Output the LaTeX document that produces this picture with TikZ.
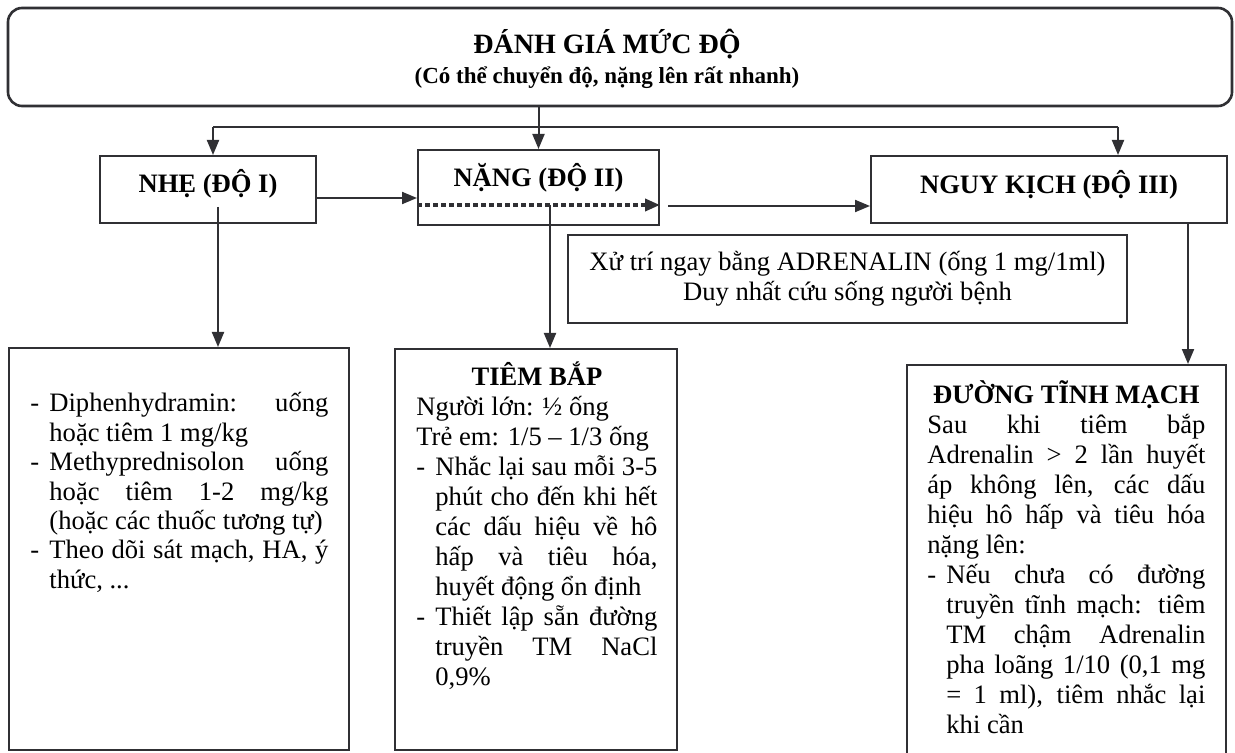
\documentclass[tikz,border=0pt]{standalone}
\usepackage{fontspec}
\setmainfont{Liberation Serif}
\usetikzlibrary{arrows.meta}
\definecolor{ink}{RGB}{48,48,52}
\newcommand{\dashitem}{\par\hangindent=9.5pt\hangafter=1\noindent\makebox[9.5pt][l]{-}}

\begin{document}
\begin{tikzpicture}[x=0.5pt,y=0.5pt,yscale=-1,xscale=1,
  box/.style={draw=ink,line width=1pt,inner sep=0pt},
  headtxt/.style={font=\fontsize{13.3}{15}\selectfont\bfseries,text=black,inner sep=0pt},
  bodytxt/.style={font=\fontsize{13.3}{15}\selectfont,text=black,inner sep=0pt,align=justify},
  arrow/.style={draw=ink,line width=1pt,-{Triangle[length=7.5pt,width=6pt]}},
  dotarrow/.style={draw=ink,line width=1.8pt,dash pattern=on 2.4pt off 1.6pt,-{Triangle[length=7.5pt,width=6pt]}}]
%set diagram left start at 0, and has height of 753
\useasboundingbox (0,0) rectangle (1235,753);
\fill[white] (0,0) rectangle (1235,753);

%Shape: Rounded Rect
\node [box,line width=1.3pt,rounded corners=7pt,minimum width=612pt,minimum height=49pt] (assess) at (620,57) {};
%Shape: Rectangle
\node [box,minimum width=108pt,minimum height=33.5pt] (mild) at (208,189.5) {};
%Shape: Rectangle
\node [box,minimum width=120.5pt,minimum height=37.5pt] (severe) at (538.5,187.5) {};
%Shape: Rectangle
\node [box,minimum width=178pt,minimum height=33.5pt] (crit) at (1049,189.5) {};
%Shape: Rectangle
\node [box,minimum width=279.5pt,minimum height=44pt] (adren) at (847.5,279) {};
%Shape: Rectangle
\node [box,minimum width=170pt,minimum height=201pt] (antihist) at (179,549) {};
%Shape: Rectangle
\node [box,minimum width=141pt,minimum height=200.5pt] (im) at (536,549.5) {};
%Shape: Rectangle
\node [box,minimum width=159.5pt,minimum height=205pt] (iv) at (1066.5,570) {};

%Straight Lines
\coordinate (forkL) at (213,127);
\coordinate (forkR) at (1118,127);
\draw [draw=ink,line width=1pt] (forkL) -- (forkR);
\draw [arrow] (assess.south -| severe.north) -- (severe.north);
\draw [arrow] (forkL) -- (forkL |- mild.north);
\draw [arrow] (forkR) -- (forkR |- crit.north);
%Straight Lines
\draw [arrow] (mild.east |- 0,198) -- (severe.west |- 0,198);
\draw [dotarrow] (severe.west |- 0,205) -- (severe.east |- 0,205);
\coordinate (severeend) at (668,206);
\draw [arrow] (severeend) -- (severeend -| crit.west);
%Straight Lines
\coordinate (mildout) at (218,207);
\draw [arrow] (mildout) -- (mildout |- antihist.north);
\coordinate (severeout) at (550,205);
\draw [arrow] (severeout) -- (severeout |- im.north);
\coordinate (critout) at (1188,223);
\draw [arrow] (critout) -- (critout |- iv.north);

% Text Node
\node [headtxt,align=center] (assesstxt) at (607,59) {{\fontsize{14}{13.5}\selectfont ĐÁNH GIÁ MỨC ĐỘ}\\{\fontsize{11.5}{13.5}\selectfont (Có thể chuyển độ, nặng lên rất nhanh)}};
% Text Node
\node [headtxt,anchor=base] (mildtxt) at (208,193) {NHẸ (ĐỘ I)};
% Text Node
\node [headtxt,anchor=base] (severetxt) at (538.5,187) {NẶNG (ĐỘ II)};
% Text Node
\node [headtxt,anchor=base] (crittxt) at (1049,194) {NGUY KỊCH (ĐỘ III)};
% Text Node
\node [bodytxt,align=center] (adrentxt) at (847.5,279) {Xử trí ngay bằng ADRENALIN (ống 1 mg/1ml)\\Duy nhất cứu sống người bệnh};
% Text Node
\node [bodytxt,font=\fontsize{13.3}{14.7}\selectfont,anchor=north west,text width=149pt] (antihisttxt) at (30,382) {%
\dashitem Diphenhydramin: uống\linebreak hoặc tiêm 1 mg/kg
\dashitem Methyprednisolon uống\linebreak hoặc tiêm 1-2 mg/kg\linebreak (hoặc các thuốc tương tự)
\dashitem Theo dõi sát mạch, HA, ý\linebreak thức, ...\par};
% Text Node
\node [bodytxt,anchor=north west,text width=120.5pt] (imtxt) at (416,361) {%
{\centering\bfseries TIÊM BẮP\par}
\noindent Người lớn: ½ ống\par
\noindent Trẻ em: 1/5 – 1/3 ống
\dashitem Nhắc lại sau mỗi 3-5\linebreak phút cho đến khi hết\linebreak các dấu hiệu về hô\linebreak hấp và tiêu hóa,\linebreak huyết động ổn định
\dashitem Thiết lập sẵn đường\linebreak truyền TM NaCl\linebreak 0,9\%\par};
% Text Node
\node [bodytxt,anchor=north west,text width=139pt] (ivtxt) at (927,380) {%
{\centering\bfseries ĐƯỜNG TĨNH MẠCH\par}
\noindent Sau khi tiêm bắp\linebreak Adrenalin > 2 lần huyết\linebreak áp không lên, các dấu\linebreak hiệu hô hấp và tiêu hóa\linebreak nặng lên:
\dashitem Nếu chưa có đường\linebreak truyền tĩnh mạch: tiêm\linebreak TM chậm Adrenalin\linebreak pha loãng 1/10 (0,1 mg\linebreak = 1 ml), tiêm nhắc lại\linebreak khi cần\par};

\end{tikzpicture}
\end{document}
